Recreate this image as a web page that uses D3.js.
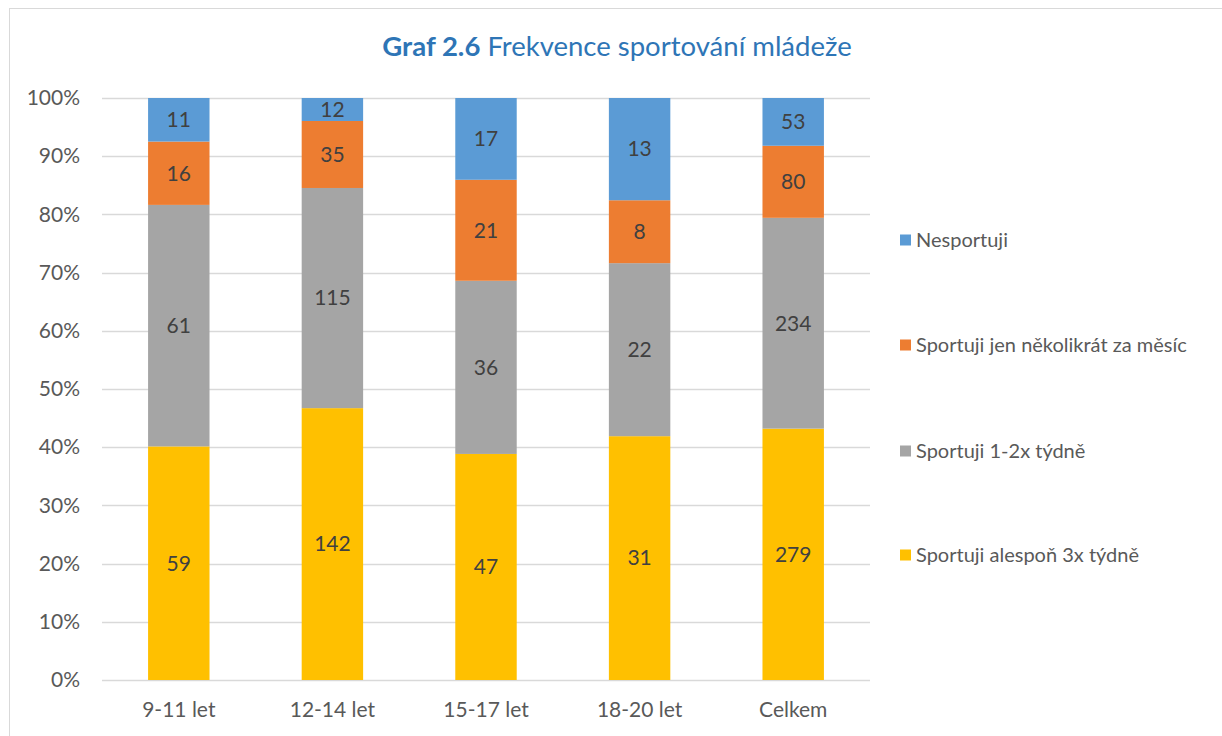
<!DOCTYPE html>
<html>
<head>
<meta charset="utf-8">
<script src="https://cdn.jsdelivr.net/npm/d3@7"></script>
<style>
  body { margin: 0; background: #fff; }
  svg text { font-family: Lato, "Open Sans", "Liberation Sans", sans-serif; }
</style>
</head>
<body>
<div id="chart"></div>
<script>
var categories = ["9-11 let", "12-14 let", "15-17 let", "18-20 let", "Celkem"];
var series_names = ["Sportuji alespoň 3x týdně", "Sportuji 1-2x týdně",
                    "Sportuji jen několikrát za měsíc", "Nesportuji"];
var alespon_3x = [59, 142, 47, 31, 279];
var tydne_1_2x = [61, 115, 36, 22, 234];
var za_mesic = [16, 35, 21, 8, 80];
var nesportuji = [11, 12, 17, 13, 53];
var y_ticks = [0, 0.1, 0.2, 0.3, 0.4, 0.5, 0.6, 0.7, 0.8, 0.9, 1];

var series_values = [alespon_3x, tydne_1_2x, za_mesic, nesportuji];
var colors = ["#FFC000", "#A5A5A5", "#ED7D31", "#5B9BD5"];

var width = 1222, height = 736,
    plot_left = 102, plot_right = 870,
    plot_top = 98, plot_bottom = 680;

var svg = d3.select("#chart").append("svg")
    .attr("width", width)
    .attr("height", height);

// outer chart border
svg.append("rect")
    .attr("x", 9.5).attr("y", 8.5)
    .attr("width", width + 10).attr("height", height + 10)
    .attr("fill", "none")
    .attr("stroke", "#D9D9D9");

var x_scale = d3.scaleBand()
    .domain(categories)
    .range([plot_left, plot_right])
    .paddingInner(0.6)
    .paddingOuter(0.3);

var y_scale = d3.scaleLinear()
    .domain([0, 1])
    .range([plot_bottom, plot_top]);

// gridlines
svg.append("g")
    .selectAll("line")
    .data(y_ticks)
    .join("line")
    .attr("x1", plot_left).attr("x2", plot_right)
    .attr("y1", function (d) { return Math.round(y_scale(d)) + 0.5; })
    .attr("y2", function (d) { return Math.round(y_scale(d)) + 0.5; })
    .attr("stroke", "#D9D9D9")
    .attr("stroke-width", 1.5);

// y axis labels
var y_axis = d3.axisLeft(y_scale)
    .tickValues(y_ticks)
    .tickFormat(d3.format(".0%"))
    .tickSize(0)
    .tickPadding(22);
svg.append("g")
    .attr("transform", "translate(" + plot_left + ",0)")
    .call(y_axis)
    .call(function (g) { g.select(".domain").remove(); })
    .selectAll("text")
    .attr("fill", "#595959")
    .style("font-size", "21px");

// build stacked data
var rows = categories.map(function (c, i) {
  var row = { category: c };
  series_names.forEach(function (s, j) { row[s] = series_values[j][i]; });
  return row;
});
var stacked = d3.stack()
    .keys(series_names)
    .offset(d3.stackOffsetExpand)(rows);

var layers = svg.append("g")
    .selectAll("g")
    .data(stacked)
    .join("g")
    .attr("fill", function (d, i) { return colors[i]; });

layers.selectAll("rect")
    .data(function (d) { return d; })
    .join("rect")
    .attr("x", function (d) { return x_scale(d.data.category); })
    .attr("width", x_scale.bandwidth())
    .attr("y", function (d) { return y_scale(d[1]); })
    .attr("height", function (d) { return y_scale(d[0]) - y_scale(d[1]); });

// value labels
stacked.forEach(function (layer, j) {
  svg.append("g")
      .selectAll("text")
      .data(layer)
      .join("text")
      .attr("x", function (d) { return x_scale(d.data.category) + x_scale.bandwidth() / 2; })
      .attr("y", function (d) { return (y_scale(d[0]) + y_scale(d[1])) / 2; })
      .attr("dy", "0.35em")
      .attr("text-anchor", "middle")
      .attr("fill", "#404040")
      .style("font-size", "21px")
      .text(function (d, i) { return series_values[j][i]; });
});

// x axis labels
var x_axis = d3.axisBottom(x_scale).tickSize(0).tickPadding(22);
svg.append("g")
    .attr("transform", "translate(0," + plot_bottom + ")")
    .call(x_axis)
    .call(function (g) { g.select(".domain").remove(); })
    .selectAll("text")
    .attr("fill", "#595959")
    .style("font-size", "21px");

// title
var title = svg.append("text")
    .attr("x", 617)
    .attr("y", 56)
    .attr("text-anchor", "middle")
    .attr("fill", "#2E75B6")
    .style("font-size", "27.5px");
title.append("tspan").style("font-weight", "bold").text("Graf 2.6");
title.append("tspan").text(" Frekvence sportování mládeže");

// legend, top to bottom in reverse stack order
var legend_y = [240, 345, 451, 555];
var legend = svg.append("g")
    .selectAll("g")
    .data(series_names.slice().reverse())
    .join("g")
    .attr("transform", function (d, i) { return "translate(900," + legend_y[i] + ")"; });
legend.append("rect")
    .attr("x", 0).attr("y", -5.5)
    .attr("width", 11).attr("height", 11)
    .attr("fill", function (d, i) { return colors[colors.length - 1 - i]; });
legend.append("text")
    .attr("x", 16)
    .attr("dy", "0.35em")
    .attr("fill", "#595959")
    .style("font-size", "20px")
    .text(function (d) { return d; });
</script>
</body>
</html>
